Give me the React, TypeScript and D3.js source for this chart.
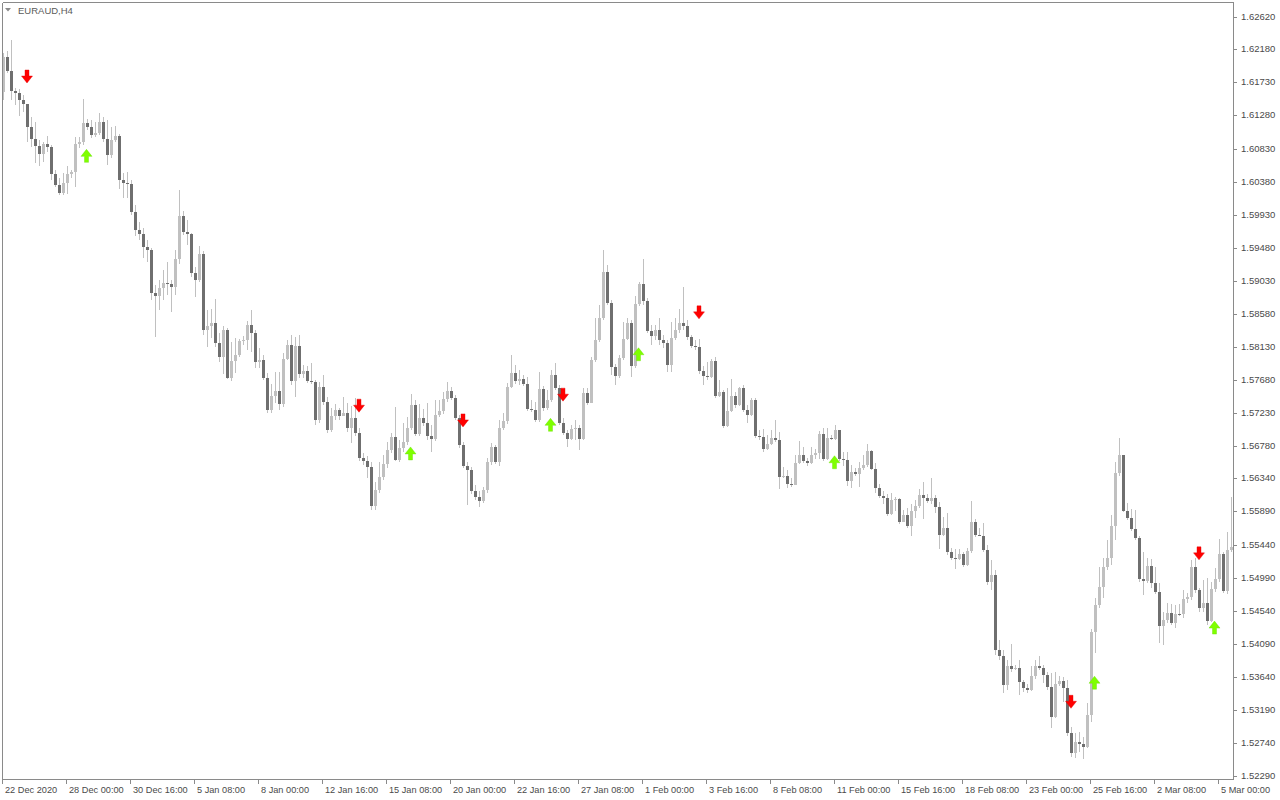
import React from "react";
import * as d3 from "d3";

const symbolLabel = "EURAUD,H4";
const firstOpen = 1.616;

const closes = [
1.6207,1.6188,1.6161,1.6158,1.6149,1.6144,1.6112,1.6096,1.6086,1.6075,
1.6089,1.6085,1.6048,1.6033,1.6022,1.6036,1.6048,1.6051,1.6089,1.6092,
1.6118,1.6112,1.6101,1.6104,1.6119,1.6096,1.6074,1.6095,1.6100,1.6040,
1.6036,1.6035,1.5997,1.5972,1.5967,1.5949,1.5945,1.5886,1.5882,1.5893,
1.5900,1.5899,1.5894,1.5933,1.5991,1.5969,1.5967,1.5913,1.5904,1.5939,
1.5836,1.5841,1.5845,1.5818,1.5799,1.5836,1.5771,1.5794,1.5802,1.5821,
1.5822,1.5843,1.5832,1.5792,1.5795,1.5770,1.5727,1.5746,1.5753,1.5735,
1.5796,1.5816,1.5767,1.5814,1.5776,1.5780,1.5767,1.5765,1.5713,1.5758,
1.5738,1.5700,1.5719,1.5727,1.5719,1.5723,1.5703,1.5716,1.5696,1.5662,
1.5658,1.5649,1.5596,1.5618,1.5636,1.5654,1.5673,1.5690,1.5659,1.5675,
1.5683,1.5702,1.5734,1.5694,1.5716,1.5709,1.5692,1.5688,1.5720,1.5726,
1.5742,1.5753,1.5743,1.5716,1.5679,1.5651,1.5645,1.5617,1.5609,1.5603,
1.5618,1.5656,1.5677,1.5656,1.5703,1.5712,1.5758,1.5777,1.5767,1.5769,
1.5762,1.5728,1.5727,1.5713,1.5756,1.5730,1.5741,1.5775,1.5757,1.5709,
1.5696,1.5688,1.5701,1.5703,1.5688,1.5750,1.5737,1.5795,1.5822,1.5852,
1.5915,1.5873,1.5786,1.5773,1.5798,1.5824,1.5845,1.5787,1.5871,1.5899,
1.5875,1.5835,1.5828,1.5836,1.5822,1.5818,1.5788,1.5825,1.5836,1.5845,
1.5841,1.5826,1.5814,1.5813,1.5780,1.5773,1.5772,1.5794,1.5746,1.5752,
1.5705,1.5726,1.5746,1.5734,1.5757,1.5727,1.5720,1.5741,1.5692,1.5690,
1.5674,1.5681,1.5689,1.5686,1.5636,1.5637,1.5626,1.5625,1.5655,1.5666,
1.5658,1.5655,1.5666,1.5668,1.5694,1.5660,1.5689,1.5688,1.5700,1.5660,
1.5659,1.5630,1.5643,1.5640,1.5648,1.5652,1.5671,1.5647,1.5621,1.5610,
1.5607,1.5585,1.5605,1.5606,1.5575,1.5584,1.5569,1.5590,1.5596,1.5611,
1.5607,1.5603,1.5608,1.5595,1.5557,1.5566,1.5534,1.5526,1.5524,1.5531,
1.5516,1.5535,1.5575,1.5557,1.5556,1.5536,1.5493,1.5502,1.5400,1.5392,
1.5353,1.5379,1.5375,1.5376,1.5357,1.5349,1.5346,1.5365,1.5379,1.5376,
1.5366,1.5350,1.5309,1.5354,1.5358,1.5349,1.5287,1.5260,1.5275,1.5273,
1.5268,1.5312,1.5425,1.5462,1.5486,1.5513,1.5526,1.5569,1.5641,1.5666,
1.5590,1.5580,1.5565,1.5553,1.5497,1.5494,1.5515,1.5492,1.5479,1.5433,
1.5441,1.5451,1.5437,1.5450,1.5449,1.5470,1.5473,1.5513,1.5482,1.5458,
1.5464,1.5440,1.5483,1.5497,1.5531,1.5481,1.5536,1.5541
];

const highs = [
1.6213,1.6216,1.6231,1.6165,1.6164,1.6156,1.6129,1.6126,1.6119,1.6095,
1.6092,1.6100,1.6088,1.6054,1.6043,1.6050,1.6059,1.6054,1.6099,1.6099,
1.6150,1.6123,1.6122,1.6119,1.6131,1.6126,1.6122,1.6112,1.6114,1.6103,
1.6050,1.6051,1.6040,1.6006,1.5983,1.5975,1.5958,1.5948,1.5897,1.5904,
1.5918,1.5928,1.5904,1.5945,1.6026,1.5998,1.5986,1.5968,1.5922,1.5950,
1.5943,1.5863,1.5865,1.5878,1.5832,1.5841,1.5839,1.5820,1.5825,1.5824,
1.5828,1.5848,1.5863,1.5836,1.5811,1.5802,1.5777,1.5762,1.5779,1.5779,
1.5805,1.5822,1.5829,1.5826,1.5829,1.5788,1.5787,1.5791,1.5768,1.5765,
1.5775,1.5745,1.5730,1.5735,1.5730,1.5745,1.5737,1.5732,1.5743,1.5703,
1.5669,1.5664,1.5656,1.5629,1.5656,1.5666,1.5683,1.5696,1.5731,1.5686,
1.5709,1.5718,1.5749,1.5741,1.5735,1.5728,1.5737,1.5707,1.5741,1.5741,
1.5752,1.5765,1.5758,1.5747,1.5720,1.5683,1.5656,1.5649,1.5625,1.5617,
1.5622,1.5662,1.5682,1.5679,1.5713,1.5723,1.5764,1.5802,1.5788,1.5781,
1.5775,1.5772,1.5741,1.5738,1.5779,1.5760,1.5754,1.5781,1.5791,1.5761,
1.5716,1.5700,1.5707,1.5713,1.5707,1.5757,1.5757,1.5799,1.5852,1.5870,
1.5945,1.5924,1.5877,1.5790,1.5802,1.5847,1.5852,1.5849,1.5882,1.5901,
1.5933,1.5879,1.5843,1.5843,1.5852,1.5829,1.5822,1.5847,1.5852,1.5865,
1.5894,1.5849,1.5829,1.5822,1.5824,1.5787,1.5792,1.5796,1.5799,1.5768,
1.5754,1.5757,1.5769,1.5752,1.5758,1.5761,1.5734,1.5743,1.5743,1.5700,
1.5701,1.5693,1.5700,1.5713,1.5697,1.5649,1.5645,1.5634,1.5666,1.5685,
1.5677,1.5662,1.5677,1.5674,1.5698,1.5703,1.5703,1.5693,1.5707,1.5700,
1.5670,1.5670,1.5652,1.5648,1.5656,1.5666,1.5681,1.5673,1.5655,1.5626,
1.5617,1.5613,1.5614,1.5609,1.5607,1.5591,1.5594,1.5599,1.5605,1.5620,
1.5629,1.5613,1.5634,1.5611,1.5602,1.5581,1.5587,1.5539,1.5538,1.5538,
1.5534,1.5539,1.5603,1.5579,1.5566,1.5573,1.5543,1.5523,1.5509,1.5414,
1.5400,1.5387,1.5409,1.5380,1.5387,1.5360,1.5354,1.5379,1.5387,1.5392,
1.5380,1.5370,1.5369,1.5370,1.5365,1.5364,1.5360,1.5296,1.5287,1.5289,
1.5282,1.5328,1.5429,1.5471,1.5513,1.5526,1.5550,1.5584,1.5656,1.5689,
1.5647,1.5600,1.5592,1.5591,1.5556,1.5534,1.5526,1.5524,1.5513,1.5492,
1.5452,1.5464,1.5463,1.5462,1.5463,1.5482,1.5478,1.5523,1.5526,1.5485,
1.5496,1.5498,1.5493,1.5512,1.5551,1.5534,1.5561,1.5609
];

const lows = [
1.6149,1.6186,1.6149,1.6142,1.6127,1.6133,1.6092,1.6085,1.6063,1.6059,
1.6065,1.6078,1.6040,1.6031,1.6020,1.6020,1.6021,1.6043,1.6031,1.6084,
1.6088,1.6108,1.6097,1.6099,1.6101,1.6092,1.6060,1.6070,1.6092,1.6028,
1.6016,1.6015,1.5992,1.5964,1.5958,1.5934,1.5928,1.5877,1.5826,1.5863,
1.5877,1.5884,1.5860,1.5883,1.5926,1.5965,1.5952,1.5908,1.5881,1.5901,
1.5829,1.5813,1.5825,1.5813,1.5792,1.5776,1.5769,1.5767,1.5777,1.5799,
1.5815,1.5809,1.5806,1.5784,1.5784,1.5768,1.5723,1.5723,1.5737,1.5727,
1.5731,1.5795,1.5761,1.5745,1.5771,1.5771,1.5764,1.5762,1.5707,1.5709,
1.5734,1.5696,1.5697,1.5713,1.5713,1.5719,1.5697,1.5682,1.5692,1.5658,
1.5652,1.5634,1.5591,1.5591,1.5614,1.5632,1.5648,1.5669,1.5658,1.5656,
1.5670,1.5679,1.5700,1.5692,1.5692,1.5705,1.5686,1.5670,1.5685,1.5718,
1.5722,1.5738,1.5741,1.5713,1.5675,1.5648,1.5598,1.5613,1.5605,1.5595,
1.5600,1.5614,1.5652,1.5653,1.5651,1.5700,1.5708,1.5757,1.5762,1.5761,
1.5760,1.5726,1.5724,1.5711,1.5711,1.5726,1.5727,1.5738,1.5754,1.5707,
1.5693,1.5677,1.5686,1.5686,1.5673,1.5686,1.5734,1.5737,1.5792,1.5820,
1.5850,1.5870,1.5775,1.5761,1.5771,1.5795,1.5822,1.5772,1.5784,1.5869,
1.5870,1.5832,1.5815,1.5822,1.5815,1.5811,1.5779,1.5779,1.5822,1.5832,
1.5836,1.5822,1.5811,1.5809,1.5776,1.5761,1.5768,1.5771,1.5743,1.5745,
1.5703,1.5704,1.5724,1.5730,1.5732,1.5724,1.5709,1.5719,1.5689,1.5686,
1.5670,1.5673,1.5679,1.5683,1.5620,1.5634,1.5621,1.5622,1.5625,1.5653,
1.5655,1.5651,1.5653,1.5660,1.5660,1.5658,1.5659,1.5686,1.5686,1.5658,
1.5651,1.5624,1.5621,1.5637,1.5622,1.5645,1.5649,1.5645,1.5614,1.5607,
1.5599,1.5583,1.5584,1.5590,1.5572,1.5575,1.5566,1.5556,1.5580,1.5594,
1.5579,1.5600,1.5599,1.5587,1.5538,1.5556,1.5530,1.5523,1.5511,1.5523,
1.5513,1.5515,1.5532,1.5554,1.5556,1.5534,1.5489,1.5482,1.5394,1.5387,
1.5342,1.5346,1.5370,1.5373,1.5339,1.5343,1.5342,1.5345,1.5361,1.5373,
1.5355,1.5346,1.5294,1.5308,1.5351,1.5330,1.5283,1.5255,1.5253,1.5262,
1.5252,1.5267,1.5302,1.5396,1.5458,1.5471,1.5509,1.5516,1.5550,1.5637,
1.5588,1.5577,1.5562,1.5550,1.5493,1.5475,1.5492,1.5485,1.5477,1.5410,
1.5407,1.5437,1.5434,1.5430,1.5447,1.5444,1.5464,1.5468,1.5478,1.5452,
1.5452,1.5434,1.5439,1.5479,1.5493,1.5478,1.5477,1.5534
];

const sellIdx = [6, 89, 115, 140, 174, 267, 299];
const sellPrice = [1.6181, 1.5733, 1.5713, 1.5748, 1.5860, 1.5330, 1.5532];
const buyIdx = [21, 102, 137, 159, 208, 273, 303];
const buyPrice = [1.6073, 1.5668, 1.5707, 1.5803, 1.5656, 1.5356, 1.5431];

const priceTicks = [
1.6262,1.6218,1.6173,1.6128,1.6083,1.6038,1.5993,1.5948,1.5903,1.5858,
1.5813,1.5768,1.5723,1.5678,1.5634,1.5589,1.5544,1.5499,1.5454,1.5409,
1.5364,1.5319,1.5274,1.5229
];

const dateLabels = [
"22 Dec 2020","28 Dec 00:00","30 Dec 16:00","5 Jan 08:00","8 Jan 00:00",
"12 Jan 16:00","15 Jan 08:00","20 Jan 00:00","22 Jan 16:00","27 Jan 08:00",
"1 Feb 00:00","3 Feb 16:00","8 Feb 08:00","11 Feb 00:00","15 Feb 16:00",
"18 Feb 08:00","23 Feb 00:00","25 Feb 16:00","2 Mar 08:00","5 Mar 00:00"
];
const dateLabelStep = 16;

const W = 1280;
const H = 800;
const plotRight = 1233;
const plotBottom = 779;
const font = "Liberation Sans, Arial, sans-serif";

export default function App() {
  const n = closes.length;
  const x = d3.scaleLinear().domain([0, n - 1]).range([3.5, 3.5 + 4 * (n - 1)]);
  const y = d3.scaleLinear().domain([1.5229, 1.6262]).range([776, 17]);

  const candles = closes.map((c, i) => {
    const o = i === 0 ? firstOpen : closes[i - 1];
    const hi = Math.max(highs[i], o, c);
    const lo = Math.min(lows[i], o, c);
    const cx = x(i);
    const yTop = Math.round(y(Math.max(o, c)));
    const yBot = Math.round(y(Math.min(o, c)));
    const up = c >= o;
    return { i, cx, up, yTop, bh: Math.max(1, yBot - yTop), wTop: Math.round(y(hi)), wBot: Math.round(y(lo)) };
  });

  const downArrow = (cx: number, cy: number) =>
    `M${cx - 2},${cy - 6.5}H${cx + 2}V${cy - 0.5}H${cx + 5.5}L${cx},${cy + 6.5}L${cx - 5.5},${cy - 0.5}H${cx - 2}Z`;
  const upArrow = (cx: number, cy: number) =>
    `M${cx - 2},${cy + 6.5}H${cx + 2}V${cy + 0.5}H${cx + 5.5}L${cx},${cy - 6.5}L${cx - 5.5},${cy + 0.5}H${cx - 2}Z`;

  return (
    <svg width={W} height={H} style={{ position: "absolute", left: 0, top: 0, background: "#fff" }} fontFamily={font}>
      <rect x={0} y={0} width={W} height={H} fill="#ffffff" />
      <g shapeRendering="crispEdges">
        {candles.map((d) => (
          <rect key={"w" + d.i} x={d.cx - 0.5} y={d.wTop} width={1} height={Math.max(1, d.wBot - d.wTop)} fill="#c0c0c0" />
        ))}
        {candles.map((d) => (
          <rect key={"b" + d.i} x={d.cx - 1.5} y={d.yTop} width={3} height={d.bh} fill={d.up ? "#c0c0c0" : "#6f6f6f"} />
        ))}
      </g>
      {sellIdx.map((idx, k) => (
        <path key={"s" + k} d={downArrow(x(idx) - 0.5, y(sellPrice[k]))} fill="#ff0000" stroke="#e00000" strokeWidth={0.4} />
      ))}
      {buyIdx.map((idx, k) => (
        <path key={"u" + k} d={upArrow(x(idx) - 1, y(buyPrice[k]))} fill="#7fff00" stroke="#66dd00" strokeWidth={0.4} />
      ))}
      <g shapeRendering="crispEdges" stroke="#8a8a8a" strokeWidth={1}>
        <line x1={2.5} y1={2.5} x2={plotRight + 0.5} y2={2.5} />
        <line x1={2.5} y1={2.5} x2={2.5} y2={plotBottom + 0.5} />
        <line x1={plotRight + 0.5} y1={2.5} x2={plotRight + 0.5} y2={plotBottom + 0.5} />
        <line x1={2.5} y1={plotBottom + 0.5} x2={plotRight + 0.5} y2={plotBottom + 0.5} />
        {priceTicks.map((p, k) => (
          <line key={"pt" + k} x1={plotRight} x2={plotRight + 4} y1={Math.round(y(p)) + 0.5} y2={Math.round(y(p)) + 0.5} />
        ))}
        {dateLabels.map((_, k) => {
          const tx = Math.round(x(k * dateLabelStep) - 1.5) + 0.5;
          return <line key={"dt" + k} x1={tx} x2={tx} y1={plotBottom} y2={plotBottom + 5} />;
        })}
      </g>
      {priceTicks.map((p, k) => (
        <text key={"pl" + k} x={plotRight + 8} y={Math.round(y(p))} dy="0.35em" fontSize={9.5} fill="#4a4a4a">
          {p.toFixed(5)}
        </text>
      ))}
      {dateLabels.map((t, k) => (
        <text key={"dl" + k} x={Math.round(x(k * dateLabelStep) - 1.5) + 3} y={793} fontSize={9.2} fill="#4a4a4a">
          {t}
        </text>
      ))}
      <path d="M5,8H11L8,11.5Z" fill="#8a8a8a" />
      <text x={18} y={14} fontSize={9.5} fill="#5a5a5a">
        {symbolLabel}
      </text>
    </svg>
  );
}
